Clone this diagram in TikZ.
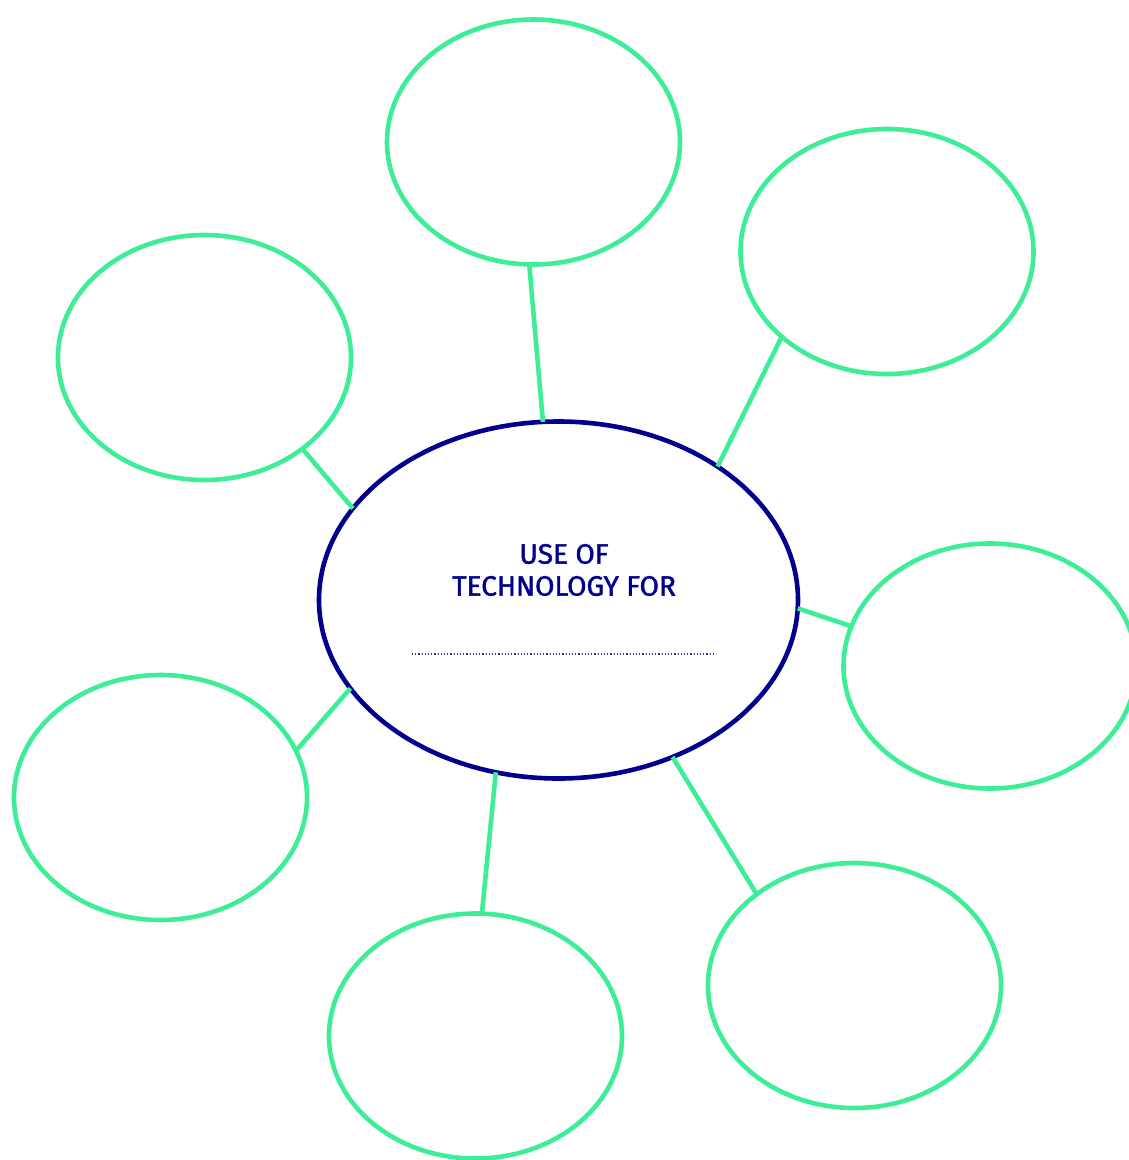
\documentclass[tikz,border=0pt]{standalone}
\usepackage{fontspec}
\setmainfont{Fira Sans}[FakeBold=1.6]
\usetikzlibrary{shapes.geometric}
\definecolor{leaf}{RGB}{61,237,151}
\definecolor{navy}{RGB}{0,0,140}
\tikzset{
  bubble/.style={ellipse, draw=leaf, line width=4.6pt, minimum width=293pt, minimum height=245pt, inner sep=0pt, outer sep=0pt},
  hub/.style={ellipse, draw=navy, line width=4.6pt, minimum width=479pt, minimum height=357pt, inner sep=0pt, outer sep=0pt},
  link/.style={draw=leaf, line width=4.6pt},
  title/.style={text=navy, font=\fontsize{28}{32}\selectfont, align=center}
}
\begin{document}
\begin{tikzpicture}[x=1pt,y=-1pt]
\useasboundingbox (0,0) rectangle (1129,1160);
\clip (0,0) rectangle (1129,1160);
\node[hub] (c) at (558.5,600) {};
\node[bubble] (t) at (533.5,142) {};
\node[bubble] (ur) at (887,251.5) {};
\node[bubble] (l) at (204.5,357.5) {};
\node[bubble] (r) at (990,666) {};
\node[bubble] (ll) at (160.5,797.5) {};
\node[bubble] (b) at (475.5,1036) {};
\node[bubble] (lr) at (854.5,985.5) {};
\node[title] (txt) at (564,570) {USE OF\\TECHNOLOGY FOR};
\coordinate (d1) at (412,654);
\coordinate (d2) at (716,654);
\draw[navy!80, line width=1.2pt, dotted] (d1) -- (d2);
\draw[link] (t.268) -- (c.95.8);
\draw[link] (ur.219.5) -- (c.40.9);
\draw[link] (l.317.1) -- (c.156.4);
\draw[link] (r.164.3) -- (c.-2.1);
\draw[link] (ll.19.8) -- (c.203.3);
\draw[link] (b.87) -- (c.250.4);
\draw[link] (lr.137.1) -- (c.306.3);
\end{tikzpicture}
\end{document}
